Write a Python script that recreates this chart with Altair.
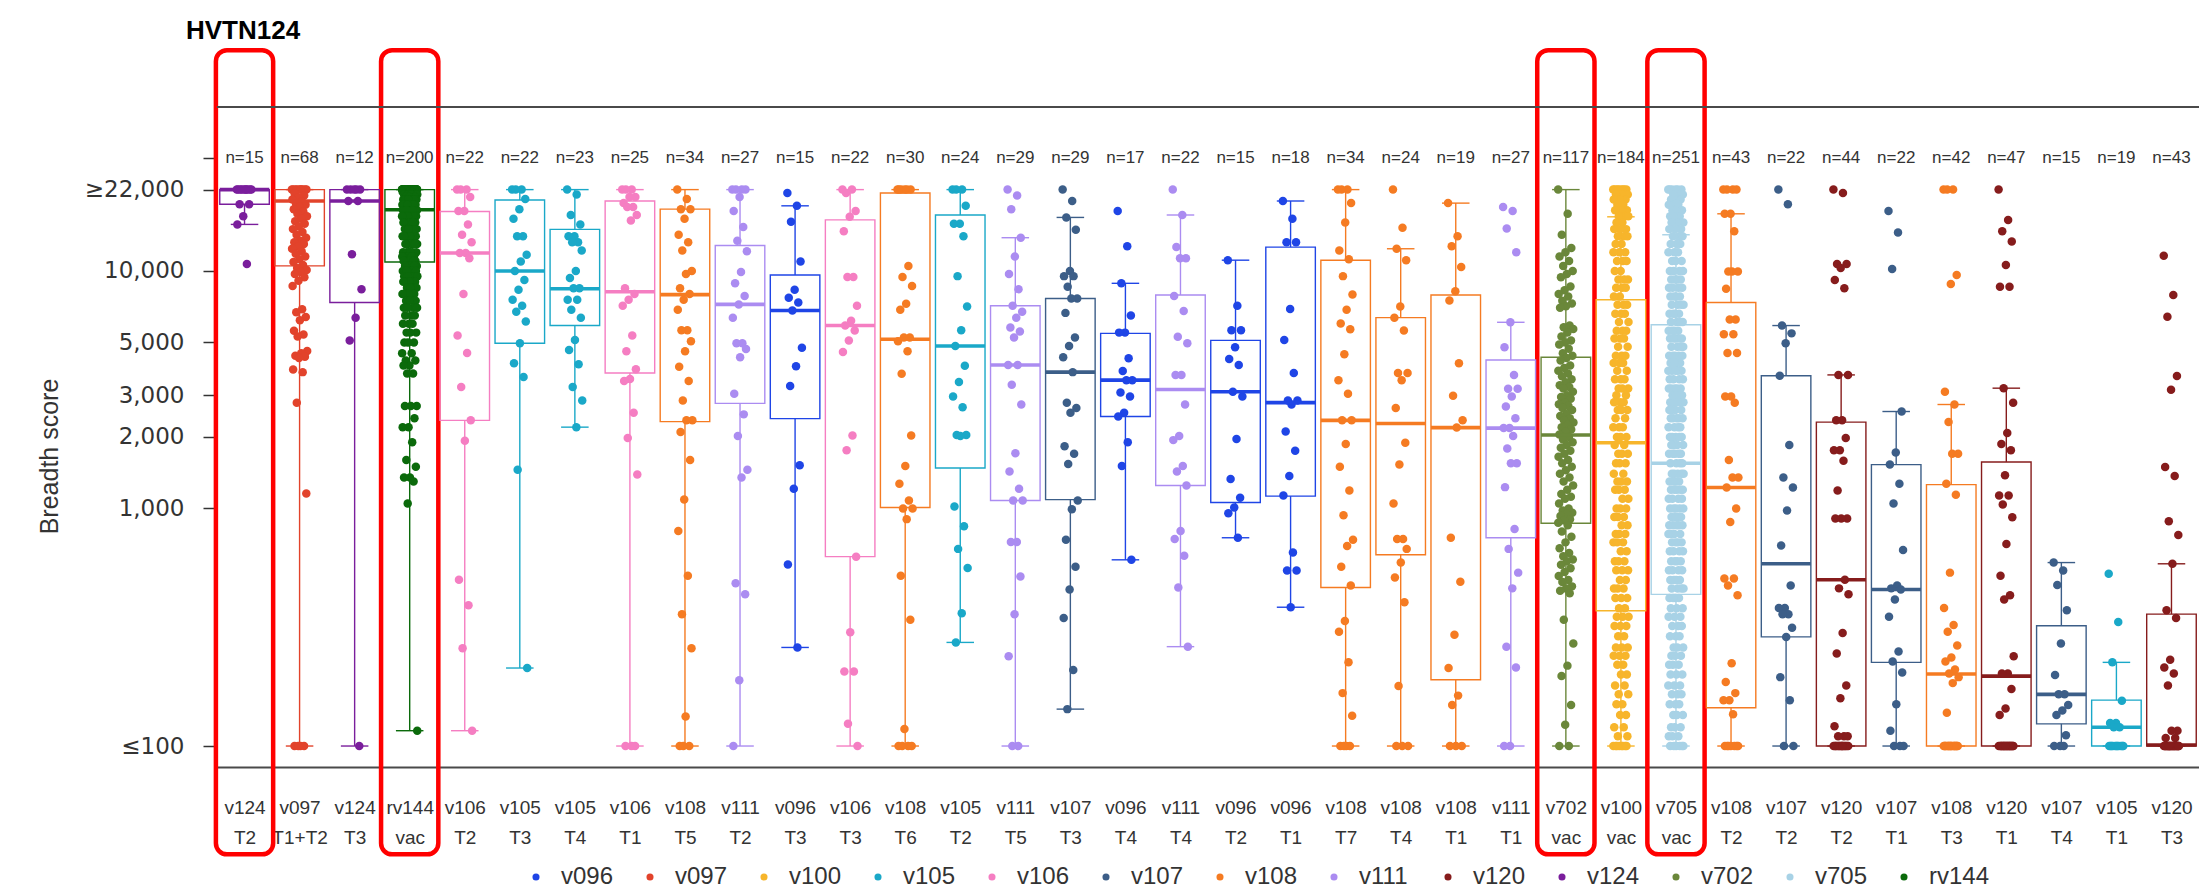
import json
import altair as alt
import pandas as pd

# ---- groups (study + treatment arm), left to right ----
groups = [
    "v124 T2", "v097 T1+T2", "v124 T3", "rv144 vac", "v106 T2", "v105 T3", "v105 T4",
    "v106 T1", "v108 T5", "v111 T2", "v096 T3", "v106 T3", "v108 T6", "v105 T2",
    "v111 T5", "v107 T3", "v096 T4", "v111 T4", "v096 T2", "v096 T1", "v108 T7",
    "v108 T4", "v108 T1", "v111 T1", "v702 vac", "v100 vac", "v705 vac", "v108 T2",
    "v107 T2", "v120 T2", "v107 T1", "v108 T3", "v120 T1", "v107 T4", "v105 T1", "v120 T3",
]
n_counts = [15, 68, 12, 200, 22, 22, 23, 25, 34, 27, 15, 22, 30, 24, 29, 29, 17, 22,
            15, 18, 34, 24, 19, 27, 117, 184, 251, 43, 22, 44, 22, 42, 47, 15, 19, 43]

# ---- box-plot summaries ----
whisk_lo = [15700, 100, 100, 116, 116, 213, 2200, 100, 100, 100, 260, 100, 100, 273, 100, 143,
            608, 262, 753, 384, 100, 100, 100, 100, 100, 100, 100, 100, 100, 100, 100, 100,
            100, 100, 100, 100]
box_q1 = [19100, 10500, 7360, 10900, 2350, 4960, 5890, 3720, 2320, 2770, 2390, 627, 1010, 1480,
          1080, 1090, 2440, 1250, 1060, 1127, 465, 639, 190, 753, 867, 371, 435, 145, 288, 100,
          225, 100, 100, 124, 100, 100]
box_med = [22000, 19700, 19700, 18100, 11900, 10000, 8410, 8170, 7950, 7230, 6820, 5890, 5160,
           4830, 4020, 3750, 3470, 3170, 3100, 2790, 2350, 2280, 2190, 2180, 2040, 1890, 1550,
           1225, 585, 501, 456, 201, 197, 165, 120, 101]
box_q3 = [22000, 22000, 22000, 22000, 17800, 19900, 14960, 19700, 18200, 12800, 9620, 16400,
          21300, 17200, 7140, 7660, 5460, 7920, 5100, 12600, 11100, 6360, 7920, 4220, 4330, 7560,
          5940, 7360, 3620, 2310, 1530, 1260, 1570, 321, 156, 359]
whisk_hi = [22000, 22000, 22000, 22000, 22000, 22000, 22000, 22000, 22000, 22000, 18800, 22000,
            22000, 22000, 13800, 16800, 8870, 17200, 11100, 19700, 22000, 12400, 19300, 6080,
            22000, 16900, 14200, 17400, 5890, 3650, 2560, 2740, 3210, 592, 225, 585]

highlighted = ["v124 T2", "rv144 vac", "v702 vac", "v705 vac"]

studies = ["v096", "v097", "v100", "v105", "v106", "v107", "v108", "v111", "v120", "v124",
           "v702", "v705", "rv144"]
study_colors = ["#1f45e6", "#e2432b", "#f7b52b", "#1aa8c8", "#f57ec2", "#3c5e88", "#f57b22",
                "#ab8cf1", "#861c1c", "#7a1e9c", "#6a873a", "#a8d2e6", "#0b6a0b"]


def expand(pairs):
    out = []
    for value, count in pairs:
        out += [value] * count
    return out


# ---- individual breadth scores per group ----
pts_v124_T2 = [22000] * 10 + [19100, 19100, 17000, 15700, 10700]
pts_v097_T1T2 = ([22000] * 10 + [21200, 20800, 20400, 20000, 19600, 19200, 19000, 18600, 18200,
                 17800, 17400, 17000, 16600, 16200, 15800, 15400, 15000, 14600, 14200, 13800,
                 13400, 13200, 13000, 12700, 12400, 12100, 11800, 11500, 11200, 10900, 10600,
                 10300, 10100, 9900, 9700, 9400, 9100, 8650, 6900, 6700, 6400, 6200, 5600, 5400,
                 5300, 4600, 4500, 4400, 4350, 4300, 3850, 3750, 2790, 1157] + [100] * 4)
pts_v124_T3 = [22000] * 5 + [19700, 19700, 11750, 8380, 6360, 5100, 100]
pts_rv144_vac = expand([
    (22000, 46), (21500, 3), (21000, 8), (20500, 3), (20000, 8), (19000, 8), (18000, 8),
    (17000, 6), (16000, 6), (15000, 6), (14000, 6), (13000, 6), (12000, 6), (11500, 5),
    (11000, 5), (10500, 5), (10000, 5), (9500, 5), (9000, 5), (8500, 4), (8000, 4), (7500, 4),
    (7000, 4), (6500, 3), (6000, 3), (5500, 3), (5000, 3), (4500, 2), (4200, 2), (4000, 2),
    (3700, 2), (2700, 3), (2400, 1), (2200, 2), (1900, 1), (1600, 1), (1500, 1), (1350, 2),
    (1300, 1), (1050, 1), (116, 1)])
pts_v106_T2 = [22000] * 3 + [20500, 17900, 17900, 15700, 14200, 13200, 11900, 11900, 11300, 8000,
                             5350, 4510, 3250, 2350, 1930, 501, 391, 258, 116]
pts_v105_T3 = [22000] * 3 + [20100, 18200, 16600, 14000, 14000, 11700, 10950, 10000, 9160, 8330,
                             7560, 7140, 6740, 6130, 4960, 4090, 3580, 1455, 213]
pts_v105_T4 = [22000, 21000, 17200, 15700, 14000, 14000, 13200, 13200, 12200, 10000, 9330, 8460,
               8460, 7560, 7560, 6870, 6360, 5120, 4650, 4050, 3250, 2850, 2200]
pts_v106_T1 = [22000] * 3 + [20500, 20500, 19300, 18600, 18600, 17200, 16300, 8460, 8000, 7560,
                             7140, 5350, 4590, 3860, 3510, 3440, 2530, 1980, 1390] + [100] * 3
pts_v108_T5 = [22000, 20100, 18200, 18200, 16600, 14200, 13200, 12200, 10000, 9700, 8460, 8000,
               7560, 6870, 5630, 5630, 5060, 4590, 3950, 3440, 2850, 2350, 2350, 2100, 1600, 1090,
               804, 521, 359, 258, 133, 100, 100, 100]
pts_v111_T2 = [22000] * 4 + [20500, 17900, 15300, 13400, 12100, 9890, 8870, 7850, 7230, 6360,
                             4960, 4960, 4690, 4330, 3040, 2490, 2020, 1455, 1350, 485, 435, 189,
                             100]
pts_v096_T3 = [21300, 18800, 16100, 10950, 8330, 7710, 7360, 6820, 4750, 3970, 3280, 1520, 1210,
               581, 260]
pts_v106_T3 = [22000, 22000, 21300, 17900, 16900, 14700, 9440, 9440, 7140, 6170, 5890, 5610, 5100,
               4560, 2030, 1760, 627, 301, 206, 206, 124, 100]
pts_v108_T6 = [22000] * 6 + [10500, 9440, 8650, 7280, 6870, 5250, 5250, 5060, 4590, 3690, 2030,
                             1510, 1270, 1080, 1000, 1000, 902, 521, 340, 118] + [100] * 4
pts_v105_T2 = [22000] * 3 + [18800, 15800, 15800, 14000, 9510, 7080, 5630, 4830, 3990, 3410, 2960,
                             2670, 2040, 2040, 2020, 1020, 841, 676, 562, 362, 273]
pts_v111_T5 = [22000, 20800, 18200, 13800, 11500, 9700, 8380, 7140, 6740, 6360, 5780, 5560, 5250,
               4020, 4020, 3320, 2740, 1710, 1430, 1210, 1080, 1080, 723, 723, 517, 359, 239, 100,
               100]
pts_v107_T3 = [22000, 19700, 16800, 14900, 10000, 9510, 9510, 8570, 7660, 7660, 6660, 5250, 4830,
               4330, 3750, 2790, 2650, 2530, 1830, 1700, 1540, 1080, 993, 739, 569, 456, 346, 209,
               143]
pts_v096_T4 = [17900, 12700, 8870, 6490, 5500, 5500, 4290, 3790, 3470, 3470, 3080, 2960, 2530, 2440,
               1900, 1510, 608]
pts_v111_T4 = [22000, 17200, 12600, 11300, 11300, 7850, 6790, 5290, 4960, 3650, 3650, 2740, 2020,
               1940, 1510, 1430, 1250, 804, 744, 632, 465, 262]
pts_v096_T2 = [11100, 7140, 5630, 5630, 4770, 4260, 4020, 3100, 2960, 1960, 1330, 1110, 1010, 955,
               753]
pts_v096_T1 = [19700, 16600, 13200, 13200, 6920, 5120, 3720, 2850, 2850, 2740, 2110, 1750, 1370,
               1135, 652, 548, 548, 384]
pts_v108_T7 = [22000] * 3 + [19300, 16000, 12200, 11200, 9510, 7950, 6870, 6010, 5680, 4460, 3470,
                             3040, 2350, 2350, 1870, 1500, 1190, 937, 739, 695, 569, 474, 336,
                             303, 225, 167, 134] + [100] * 4
pts_v108_T4 = [22000, 15200, 12400, 11100, 7080, 6360, 5610, 3720, 3720, 3470, 2650, 1890, 1530,
               1050, 744, 744, 676, 592, 512, 403, 179, 100, 100, 100]
pts_v108_T1 = [19300, 14000, 12700, 10400, 8220, 7510, 4090, 2980, 2350, 2190, 753, 492, 294, 213,
               163, 149, 100, 100, 100]
pts_v111_T1 = [18600, 17900, 15100, 12000, 6080, 4770, 3650, 3190, 3190, 2960, 2690, 2400, 2180,
               2180, 2020, 1790, 1550, 1550, 1230, 819, 676, 537, 461, 262, 214, 100, 100]
pts_v702_vac = [22000, 17400, 14200, 12500, 12000, 11500, 11000, 10500, 10000, 9700, 9400, 8600,
                8300, 8000, 7800, 7500, 7300, 7100, 7000, 5900, 5800, 5700, 5500, 5300, 5100, 5000,
                4900, 4700, 4500, 4400, 4300, 4200, 4000, 3900, 3800, 3700, 3600, 3500, 3400, 3300,
                3250, 3200, 3100, 3000, 2950, 2900, 2800, 2750, 2700, 2650, 2600, 2500, 2450, 2400,
                2350, 2300, 2250, 2200, 2150, 2100, 2050, 2000, 1950, 1900, 1850, 1800, 1750, 1700,
                1650, 1600, 1550, 1500, 1450, 1400, 1350, 1300, 1250, 1200, 1150, 1120, 1100, 1050,
                1000, 980, 960, 950, 930, 900, 890, 870, 850, 800, 760, 720, 680, 650, 630, 610,
                600, 580, 560, 540, 520, 500, 490, 470, 460, 450, 440, 340, 270, 218, 197, 149, 123,
                100, 100]
pts_v100_vac = expand([
    (22000, 8), (21000, 3), (20000, 3), (19000, 2), (18000, 3), (17000, 3), (16000, 2),
    (15000, 3), (14000, 3), (13000, 2), (12000, 3), (11000, 3), (10000, 2), (9200, 3), (8500, 3),
    (7800, 2), (7200, 3), (6600, 3), (6100, 2), (5600, 3), (5200, 3), (4800, 2), (4400, 3),
    (4100, 3), (3800, 2), (3500, 3), (3200, 3), (3000, 2), (2800, 3), (2600, 3), (2400, 2),
    (2200, 3), (2000, 3), (1850, 2), (1700, 3), (1550, 3), (1400, 2), (1300, 3), (1200, 3),
    (1100, 2), (1000, 3), (920, 3), (850, 2), (780, 3), (720, 3), (660, 2), (600, 3), (550, 3),
    (500, 2), (460, 3), (420, 3), (380, 2), (350, 3), (320, 3), (290, 2), (260, 3), (240, 3),
    (220, 2), (200, 2), (180, 2), (165, 2), (150, 2), (135, 2), (120, 2), (110, 2), (100, 8)])
pts_v705_vac = expand([
    (22000, 6), (21000, 3), (20000, 3), (19000, 3), (18000, 3), (17000, 3), (16000, 3),
    (15000, 3), (14000, 3), (13000, 3), (12000, 3), (11000, 3), (10000, 4), (9200, 4), (8500, 4),
    (7800, 4), (7200, 4), (6600, 4), (6100, 4), (5600, 4), (5200, 5), (4800, 4), (4400, 5),
    (4100, 4), (3800, 5), (3500, 4), (3200, 5), (3000, 4), (2800, 5), (2600, 4), (2400, 5),
    (2200, 4), (2000, 5), (1850, 4), (1700, 5), (1550, 4), (1400, 5), (1300, 4), (1200, 5),
    (1100, 4), (1000, 5), (920, 4), (850, 5), (780, 4), (720, 4), (660, 4), (600, 4), (550, 4),
    (500, 4), (460, 4), (420, 4), (380, 3), (350, 3), (320, 3), (290, 3), (260, 3), (240, 3),
    (220, 3), (200, 3), (180, 3), (165, 3), (150, 3), (135, 3), (120, 3), (110, 3), (100, 6)])
pts_v108_T2 = [22000] * 4 + [17400, 17400, 14700, 9950, 9950, 9950, 8410, 6240, 6240, 5410, 5410,
                             4510, 4510, 2960, 2960, 2790, 1600, 1350, 1350, 1225, 1000, 878, 507,
                             507, 474, 431, 223, 186, 167, 156, 156, 136] + [100] * 7
pts_v107_T2 = [22000, 19100, 5890, 5460, 4960, 3620, 1850, 1350, 1225, 981, 698, 474, 381, 381, 359,
               359, 315, 288, 195, 156, 100, 100]
pts_v120_T2 = [22000, 21300, 10700, 10700, 10300, 9160, 8460, 3650, 3650, 2350, 2350, 1980, 1760,
               1760, 1590, 1190, 908, 908, 908, 501, 461, 435, 299, 245, 180, 159, 121, 110, 110,
               110] + [100] * 14
pts_v107_T1 = [17900, 14500, 10200, 2560, 1720, 1530, 1270, 1050, 668, 474, 461, 456, 414, 350, 250,
               227, 204, 150, 116, 100, 100, 100]
pts_v108_T3 = [22000] * 3 + [9610, 8810, 3100, 2740, 2310, 1700, 1700, 1270, 1143, 537, 381, 323,
                             303, 265, 236, 227, 210, 202, 195, 184, 138] + [100] * 18
pts_v120_T1 = [22000, 16400, 14700, 13300, 10600, 8570, 8570, 3210, 2790, 2080, 1870, 1760, 1380,
               1135, 1135, 1040, 919, 708, 521, 431, 414, 239, 202, 202, 174, 144, 135] + [100] * 20
pts_v107_T4 = [592, 548, 476, 373, 270, 199, 165, 165, 149, 141, 135, 111, 100, 100, 100]
pts_v105_T1 = [531, 333, 225, 155, 125, 125, 120, 120] + [100] * 11
pts_v120_T3 = [11600, 7920, 6410, 3610, 3160, 1495, 1370, 884, 774, 585, 373, 346, 231, 214, 202,
               180, 116, 116, 108, 108] + [100] * 23

point_lists = [
    pts_v124_T2, pts_v097_T1T2, pts_v124_T3, pts_rv144_vac, pts_v106_T2, pts_v105_T3,
    pts_v105_T4, pts_v106_T1, pts_v108_T5, pts_v111_T2, pts_v096_T3, pts_v106_T3, pts_v108_T6,
    pts_v105_T2, pts_v111_T5, pts_v107_T3, pts_v096_T4, pts_v111_T4, pts_v096_T2, pts_v096_T1,
    pts_v108_T7, pts_v108_T4, pts_v108_T1, pts_v111_T1, pts_v702_vac, pts_v100_vac,
    pts_v705_vac, pts_v108_T2, pts_v107_T2, pts_v120_T2, pts_v107_T1, pts_v108_T3, pts_v120_T1,
    pts_v107_T4, pts_v105_T1, pts_v120_T3,
]

# ---- tables ----
box_df = pd.DataFrame({
    "grp": groups,
    "idx": list(range(len(groups))),
    "study": [g.split(" ")[0] for g in groups],
    "lo": whisk_lo, "q1": box_q1, "med": box_med, "q3": box_q3, "hi": whisk_hi,
    "nlab": [f"n={c}" for c in n_counts],
})

JITTER = 0.28
rows = []
for i, vals in enumerate(point_lists):
    for j, v in enumerate(vals):
        off = ((j * 0.6180339887) % 1.0 - 0.5) * JITTER
        rows.append({"grp": groups[i], "study": groups[i].split(" ")[0],
                     "xpos": i + off, "score": v})
pts_df = pd.DataFrame(rows)

hl_df = pd.DataFrame({"idx": [groups.index(g) for g in highlighted]})
frame_df = pd.DataFrame({"k": [0]})

# ---- scales / axes ----
SANS = "Liberation Sans, Arial, Helvetica, sans-serif"
WIDE = "DejaVu Sans, sans-serif"
W, H = 1982, 660
N_LEVEL = 30000
x_scale = alt.Scale(domain=[-0.5, len(groups) - 0.5], nice=False, zero=False)
y_scale = alt.Scale(type="log", domain=[81.6, 49000], nice=False)

label_expr_x = "split(" + json.dumps(groups) + "[datum.value], ' ')"
x_axis = alt.Axis(values=list(range(len(groups))), labelExpr=label_expr_x, title=None,
                  ticks=False, grid=False, domain=True, domainColor="#4a4a4a", domainWidth=2,
                  labelFont=SANS, labelFontSize=19, labelColor="#333333", labelPadding=31,
                  labelLineHeight=30, labelAngle=0, labelAlign="center", labelBaseline="top",
                  labelOverlap=False, labelFlush=False)
y_axis = alt.Axis(values=[100, 1000, 2000, 3000, 5000, 10000, 22000, N_LEVEL],
                  labelExpr="datum.value == 100 ? '≤100' : datum.value == 22000 ? '≥22,000' : "
                            "datum.value >= 25000 ? '' : format(datum.value, ',')",
                  title="Breadth score", titleX=-168, titleY=349, titleAngle=270,
                  titleAlign="center", titleBaseline="middle", titleFont=SANS,
                  titleFontSize=25, titleFontWeight="normal", titleColor="#333333",
                  domain=False, grid=False, ticks=True, tickSize=14, tickWidth=1.5,
                  tickColor="#333333", labelPadding=19, labelFont=WIDE,
                  labelFontSize=23, labelColor="#333333")

stroke_scale = alt.Scale(domain=studies, range=study_colors)


def X(field):
    return alt.X(field, type="quantitative", scale=x_scale, axis=x_axis)


def Y(field):
    return alt.Y(field, type="quantitative", scale=y_scale, axis=y_axis)


STROKE = alt.Stroke("study:N", scale=stroke_scale, legend=None)

boxes = alt.Chart(box_df).transform_calculate(
    xl="datum.idx - 0.45", xr="datum.idx + 0.45",
    cl="datum.idx - 0.25", cr="datum.idx + 0.25",
)

highlight = alt.Chart(hl_df).transform_calculate(
    xl="datum.idx - 0.52", xr="datum.idx + 0.52", top="85000", bot="35"
).mark_rect(filled=False, stroke="#ff0000", strokeWidth=4.5, cornerRadius=11).encode(
    x=X("xl"), x2="xr", y=Y("top"), y2="bot")

LW = 1.4
whisker_low = boxes.mark_rule(strokeWidth=LW).encode(x=X("idx"), y=Y("lo"), y2="q1",
                                                     stroke=STROKE)
whisker_high = boxes.mark_rule(strokeWidth=LW).encode(x=X("idx"), y=Y("q3"), y2="hi",
                                                      stroke=STROKE)
cap_low = boxes.mark_rule(strokeWidth=LW).encode(x=X("cl"), x2="cr", y=Y("lo"), stroke=STROKE)
cap_high = boxes.mark_rule(strokeWidth=LW).encode(x=X("cl"), x2="cr", y=Y("hi"), stroke=STROKE)
box_rect = boxes.mark_rect(filled=False, strokeWidth=LW).encode(
    x=X("xl"), x2="xr", y=Y("q1"), y2="q3", stroke=STROKE)

points = alt.Chart(pts_df).mark_circle(size=72, opacity=1).encode(
    x=X("xpos"), y=Y("score"),
    fill=alt.Fill("study:N", scale=alt.Scale(domain=studies, range=study_colors),
                  legend=alt.Legend(orient="none", legendX=307, legendY=758,
                                    direction="horizontal", columns=13, title=None,
                                    symbolType="circle", symbolSize=50, symbolStrokeWidth=0,
                                    labelFont=SANS, labelFontSize=24,
                                    labelColor="#333333", labelOffset=13, columnPadding=16,
                                    gridAlign="all")),
)

median = boxes.mark_rule(strokeWidth=3.6).encode(x=X("xl"), x2="xr", y=Y("med"), stroke=STROKE)

n_labels = boxes.transform_calculate(ny=str(N_LEVEL)).mark_text(
    font=SANS, fontSize=17, color="#333333", baseline="middle", align="center"
).encode(x=X("idx"), y=Y("ny"), text="nlab:N")

top_line = alt.Chart(frame_df).mark_rule(color="#4a4a4a", strokeWidth=2).encode(
    x=alt.value(0), x2=alt.value(W), y=alt.value(0))

chart = alt.layer(
    highlight, whisker_low, whisker_high, cap_low, cap_high, box_rect, points, median,
    n_labels, top_line,
).resolve_scale(fill="independent", stroke="independent").properties(
    width=W, height=H,
    title=alt.TitleParams("HVTN124", anchor="start", dx=-31, dy=32, offset=15,
                          baseline="alphabetic", font=SANS, fontSize=26, fontWeight="bold",
                          color="#000000", frame="group"),
    padding={"left": 217, "top": 107, "right": 0, "bottom": 125},
    autosize=alt.AutoSizeParams(type="none"),
    background="white",
).configure_view(stroke=None)

chart.save("out.html", embed_options={"renderer": "svg", "actions": False})
